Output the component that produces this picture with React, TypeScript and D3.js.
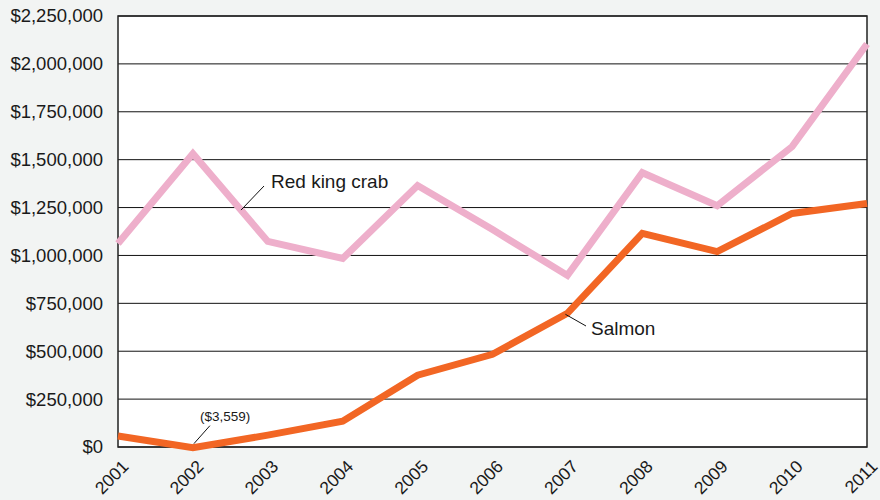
import React from "react";
import * as d3 from "d3";

const years = ["2001","2002","2003","2004","2005","2006","2007","2008","2009","2010","2011"];
const redKingCrab = [1062000, 1531000, 1073000, 984000, 1365000, 1135000, 896000, 1432000, 1260000, 1568000, 2104000];
const salmon = [57000, -3559, 62000, 135000, 375000, 484000, 698000, 1115000, 1020000, 1219000, 1271000];
const yTicks = [0, 250000, 500000, 750000, 1000000, 1250000, 1500000, 1750000, 2000000, 2250000];

const W = 880, H = 500;
const m = { left: 118, right: 13, top: 16, bottom: 53 };
const FONT = "'Liberation Sans', Arial, Helvetica, sans-serif";

export default function App() {
  const x = d3.scalePoint<string>().domain(years).range([m.left, W - m.right]);
  const y = d3.scaleLinear().domain([0, 2250000]).range([H - m.bottom, m.top]);
  const line = d3.line<number>().x((_, i) => x(years[i])!).y(d => y(d));
  const fmt = (v: number) => "$" + d3.format(",")(v);

  // leader start points on the lines
  const cx0 = x("2002")!, cx1 = x("2003")!;
  const cX = 241;
  const cT = (cX - cx0) / (cx1 - cx0);
  const cY = y(redKingCrab[1]) + cT * (y(redKingCrab[2]) - y(redKingCrab[1]));
  const sX = x("2007")! - 2;
  const sY = y(salmon[6]) + 1;
  const aX = x("2002")!, aY = y(salmon[1]);

  return (
    <div style={{ position: "absolute", left: 0, top: 0 }}>
      <svg width={W} height={H} style={{ display: "block", fontFamily: FONT }}>
        <rect x={0} y={0} width={W} height={H} fill="#f2f4f3" />
        <rect x={m.left} y={m.top} width={W - m.left - m.right} height={H - m.top - m.bottom} fill="#ffffff" />
        {yTicks.map(t => (
          <g key={t}>
            <line x1={m.left} x2={W - m.right} y1={y(t)} y2={y(t)} stroke="#111" strokeWidth={1} />
            <text x={m.left - 15} y={y(t)} dy="0.35em" textAnchor="end" fontSize={18.5} fill="#1a1a1a">{fmt(t)}</text>
          </g>
        ))}
        <rect x={m.left} y={m.top} width={W - m.left - m.right} height={H - m.top - m.bottom} fill="none" stroke="#222" strokeWidth={1.5} />
        {years.map(yr => (
          <text key={yr} transform={`translate(${x(yr)! + 3},${H - m.bottom + 12}) rotate(-45)`} textAnchor="end" dy="0.7em" fontSize={17.5} fill="#1a1a1a">{yr}</text>
        ))}
        <path d={line(redKingCrab) || ""} fill="none" stroke="#eeafcb" strokeWidth={7} strokeLinejoin="miter" />
        <path d={line(salmon) || ""} fill="none" stroke="#f26624" strokeWidth={7} strokeLinejoin="miter" />
        <line x1={cX} y1={cY} x2={264} y2={186} stroke="#111" strokeWidth={1} />
        <text x={271} y={188} fontSize={19} fill="#1a1a1a">Red king crab</text>
        <line x1={sX} y1={sY} x2={586} y2={326} stroke="#111" strokeWidth={1} />
        <text x={591} y={335} fontSize={19} fill="#1a1a1a">Salmon</text>
        <line x1={aX + 1} y1={aY - 4} x2={aX + 17} y2={aY - 22} stroke="#111" strokeWidth={1} />
        <text x={200} y={421} fontSize={13.5} fill="#1a1a1a">($3,559)</text>
      </svg>
    </div>
  );
}
